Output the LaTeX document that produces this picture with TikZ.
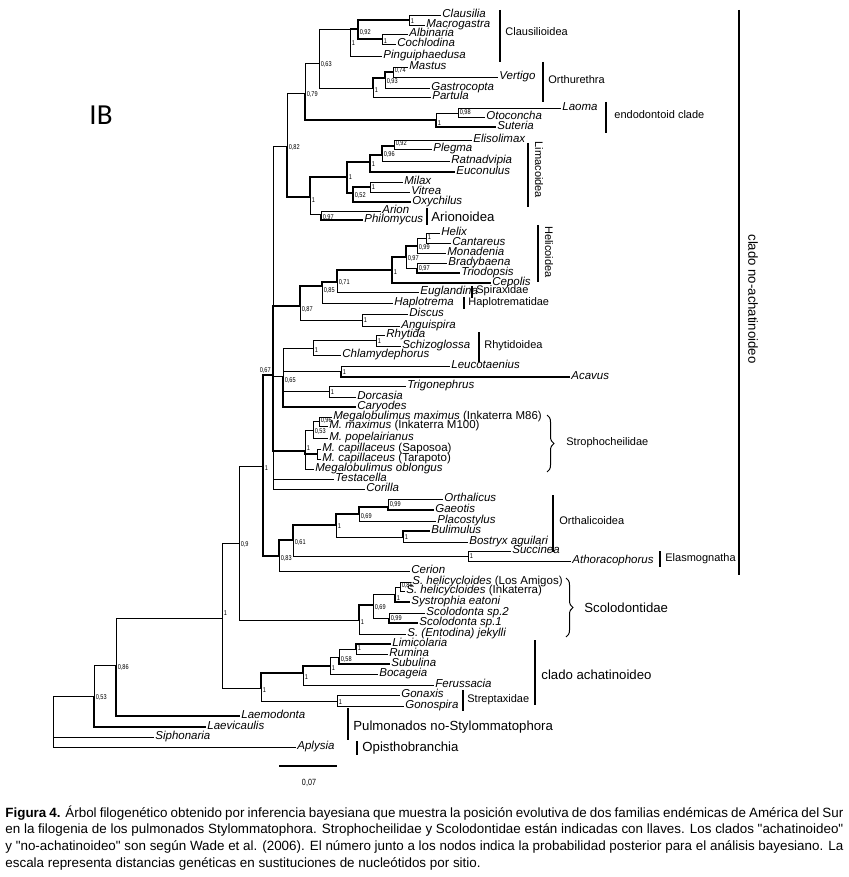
\documentclass[tikz,border=0pt]{standalone}
\usepackage{fontspec}
\setmainfont{Liberation Sans}
\newfontfamily\capfont{Liberation Sans}[Ligatures=TeXOff]
\newfontfamily\ppfamily{Liberation Sans}[FakeStretch=0.8]
\newfontfamily\ibfont{Carlito}
\usetikzlibrary{decorations.pathreplacing}

\tikzset{
  taxon/.style={anchor=west,inner sep=1pt,text height=7.9pt,text depth=2.1pt,font=\fontsize{11.5}{11.5}\selectfont\itshape},
  pp/.style={anchor=west,inner sep=0.4pt,xshift=1pt,font=\ppfamily\fontsize{7}{7}\selectfont},
  clade/.style={anchor=west,inner sep=1pt,font=\fontsize{11}{11}\selectfont},
  bigclade/.style={anchor=west,inner sep=1pt,font=\fontsize{13.2}{13.2}\selectfont},
  tb/.style={line width=1.6pt},
  bar/.style={line width=1.1pt},
  llave/.style={line width=1pt,decorate,decoration={brace,amplitude=7pt}},
  capline/.style={anchor=west,inner sep=0pt,font=\capfont\fontsize{13.4}{13.4}\selectfont}
}
% internal node of the tree: name, x, y, support, y of the support label
\newcommand{\sn}[5]{\coordinate (#1) at (#2,#3); \node[pp] (#1p) at (#2,#5) {#4};}

\begin{document}
\begin{tikzpicture}[x=1pt,y=-1pt,line width=0.8pt]
\useasboundingbox (0,0) rectangle (848,877);
\fill[white] (0,0) rectangle (848,877);

\node[font=\ibfont\fontsize{29}{29}\selectfont] (ib) at (101,115) {IB};

% taxa
\node[taxon] (clau) at (441,15) {Clausilia};
\node[taxon] (macr) at (425,25) {Macrogastra};
\node[taxon] (albi) at (408,34) {Albinaria};
\node[taxon] (coch) at (396,44) {Cochlodina};
\node[taxon] (ping) at (382,56) {Pinguiphaedusa};
\node[taxon] (mast) at (408,67) {Mastus};
\node[taxon] (vert) at (498,77) {Vertigo};
\node[taxon] (gast) at (430,88) {Gastrocopta};
\node[taxon] (part) at (431,97) {Partula};
\node[taxon] (laom) at (561,108) {Laoma};
\node[taxon] (otoc) at (485,117) {Otoconcha};
\node[taxon] (sute) at (496,127) {Suteria};
\node[taxon] (elis) at (472,140) {Elisolimax};
\node[taxon] (pleg) at (432,149) {Plegma};
\node[taxon] (ratn) at (450,161) {Ratnadvipia};
\node[taxon] (euco) at (455,172) {Euconulus};
\node[taxon] (mila) at (403,182) {Milax};
\node[taxon] (vitr) at (410,192) {Vitrea};
\node[taxon] (oxyc) at (411,202) {Oxychilus};
\node[taxon] (ario) at (381,211) {Arion};
\node[taxon] (phil) at (363,220) {Philomycus};
\node[taxon] (heli) at (440,233) {Helix};
\node[taxon] (cant) at (451,243) {Cantareus};
\node[taxon] (mona) at (446,253) {Monadenia};
\node[taxon] (brad) at (447,263) {Bradybaena};
\node[taxon] (trio) at (460,273) {Triodopsis};
\node[taxon] (cepo) at (491,283) {Cepolis};
\node[taxon] (eugl) at (419,292) {Euglandina};
\node[taxon] (hapl) at (393,303) {Haplotrema};
\node[taxon] (disc) at (408,314) {Discus};
\node[taxon] (angu) at (400,326) {Anguispira};
\node[taxon] (rhyt) at (385,335) {Rhytida};
\node[taxon] (schi) at (401,346) {Schizoglossa};
\node[taxon] (chla) at (341,355) {Chlamydephorus};
\node[taxon] (leuc) at (450,366) {Leucotaenius};
\node[taxon] (acav) at (570,377) {Acavus};
\node[taxon] (trig) at (406,386) {Trigonephrus};
\node[taxon] (dorc) at (356,397) {Dorcasia};
\node[taxon] (cary) at (356,407) {Caryodes};
\node[taxon] (mm86) at (332,417) {Megalobulimus maximus \textup{(Inkaterra M86)}};
\node[taxon] (mm100) at (328,426) {M. maximus \textup{(Inkaterra M100)}};
\node[taxon] (mpop) at (328,438) {M. popelairianus};
\node[taxon] (mcsa) at (321,449) {M. capillaceus \textup{(Saposoa)}};
\node[taxon] (mcta) at (321,459) {M. capillaceus \textup{(Tarapoto)}};
\node[taxon] (mobl) at (314,469) {Megalobulimus oblongus};
\node[taxon] (test) at (334,479) {Testacella};
\node[taxon] (cori) at (365,489) {Corilla};
\node[taxon] (orth) at (443,499) {Orthalicus};
\node[taxon] (gaeo) at (434,510) {Gaeotis};
\node[taxon] (plac) at (436,521) {Placostylus};
\node[taxon] (buli) at (430,531) {Bulimulus};
\node[taxon] (bost) at (468,542) {Bostryx aguilari};
\node[taxon] (succ) at (511,551) {Succinea};
\node[taxon] (atho) at (571,561) {Athoracophorus};
\node[taxon] (ceri) at (410,571) {Cerion};
\node[taxon] (shla) at (411,582) {S. helicycloides \textup{(Los Amigos)}};
\node[taxon] (shin) at (405,591) {S. helicycloides \textup{(Inkaterra)}};
\node[taxon] (syst) at (410,602) {Systrophia eatoni};
\node[taxon] (sco2) at (425,613) {Scolodonta sp.2};
\node[taxon] (sco1) at (418,623) {Scolodonta sp.1};
\node[taxon] (jeky) at (406,634) {S. (Entodina) jekylli};
\node[taxon] (limi) at (391,644) {Limicolaria};
\node[taxon] (rumi) at (388,654) {Rumina};
\node[taxon] (subu) at (390,664) {Subulina};
\node[taxon] (boca) at (378,674) {Bocageia};
\node[taxon] (feru) at (434,685) {Ferussacia};
\node[taxon] (gona) at (400,695) {Gonaxis};
\node[taxon] (gonp) at (404,706) {Gonospira};
\node[taxon] (laem) at (240,716) {Laemodonta};
\node[taxon] (laev) at (206,727) {Laevicaulis};
\node[taxon] (siph) at (154,737) {Siphonaria};
\node[taxon] (aply) at (296,747) {Aplysia};

% internal nodes
\sn{n1}{409}{20}{1}{21}
\sn{n2}{382}{39}{1}{41}
\sn{n3}{358}{29}{0,92}{33}
\sn{n4}{350}{29}{1}{43}
\sn{n5}{393}{72}{0,74}{71}
\sn{n6}{385}{78}{0,93}{82}
\sn{n7}{373}{88}{1}{90}
\sn{n8}{319}{63}{0,63}{65}
\sn{n9}{458}{113}{0,98}{113}
\sn{n10}{436}{120}{1}{123}
\sn{n11}{305}{93}{0,79}{95}
\sn{n12}{394}{146}{0,92}{144}
\sn{n13}{382}{155}{0,96}{155}
\sn{n14}{370}{162}{1}{164}
\sn{n15}{370}{187}{1}{187}
\sn{n16}{353}{193}{0,52}{196}
\sn{n17}{347}{177}{1}{177}
\sn{n18}{321}{214}{0,97}{218}
\sn{n19}{310}{197}{1}{200}
\sn{n20}{287}{146}{0,82}{148}
\sn{n21}{426}{238}{1}{237}
\sn{n22}{417}{246}{0,99}{248}
\sn{n23}{417}{268}{0,97}{269}
\sn{n24}{406}{257}{0,97}{259}
\sn{n25}{392}{270}{1}{272}
\sn{n26}{337}{282}{0,71}{283}
\sn{n27}{322}{286}{0,85}{291}
\sn{n28}{362}{320}{1}{320}
\sn{n29}{300}{306}{0,87}{310}
\sn{n30}{376}{340}{1}{341}
\sn{n31}{313}{348}{1}{350}
\sn{n32}{341}{371}{1}{372}
\sn{n33}{329}{391}{1}{392}
\sn{n34}{283}{376}{0,65}{381}
\sn{n35}{319}{421}{0,96}{421}
\sn{n36}{313}{430}{0,53}{432}
\coordinate (n37) at (317,454);
\sn{n38}{305}{451}{1}{448}
\coordinate (npo) at (273,375);
\node[pp,anchor=south west] (npop) at (258,374) {0,67};
\sn{n39}{388}{507}{0,99}{504}
\sn{n40}{359}{514}{0,69}{516}
\sn{n41}{403}{537}{1}{537}
\sn{n42}{336}{525}{1}{526}
\sn{n43}{468}{556}{1}{556}
\sn{n44}{293}{540}{0,61}{542}
\sn{n45}{279}{556}{0,83}{558}
\sn{nbg}{263}{466}{1}{468}
\sn{n46}{400}{587}{0,86}{585}
\sn{n47}{395}{594}{1}{598}
\sn{n48}{389}{618}{0,99}{618}
\sn{n49}{373}{605}{0,69}{607}
\sn{n50}{359}{620}{1}{622}
\sn{n51}{239}{543}{0,9}{544}
\sn{n52}{356}{649}{1}{648}
\sn{n53}{339}{657}{0,58}{659}
\sn{n54}{330}{666}{1}{668}
\sn{n55}{303}{673}{1}{677}
\sn{n57}{337}{701}{1}{702}
\sn{n56}{261}{688}{1}{690}
\sn{n58}{222}{618}{1}{613}
\sn{n59}{116}{665}{0,86}{667}
\sn{n60}{94}{696}{0,53}{697}
\coordinate (n61) at (53,696);

% branches
\draw (n1) |- (clau); \draw (n1) |- (macr);
\draw (n2) |- (albi); \draw (n2) |- (coch);
\draw[tb] (n3) |- (n1); \draw[tb] (n3) |- (n2);
\draw[tb] (n4) |- (n3); \draw (n4) |- (ping);
\draw (n5) |- (mast); \draw (n5) |- (vert);
\draw[tb] (n6) |- (n5); \draw (n6) |- (gast);
\draw[tb] (n7) |- (n6); \draw (n7) |- (part);
\draw (n8) |- (n4); \draw (n8) |- (n7);
\draw (n9) |- (laom); \draw (n9) |- (otoc);
\draw (n10) |- (n9); \draw[tb] (n10) |- (sute);
\draw (n11) |- (n8); \draw[tb] (n11) |- (n10);
\draw (n12) |- (elis); \draw (n12) |- (pleg);
\draw[tb] (n13) |- (n12); \draw (n13) |- (ratn);
\draw[tb] (n14) |- (n13); \draw[tb] (n14) |- (euco);
\draw (n15) |- (mila); \draw (n15) |- (vitr);
\draw[tb] (n16) |- (n15); \draw[tb] (n16) |- (oxyc);
\draw[tb] (n17) |- (n14); \draw[tb] (n17) |- (n16);
\draw (n18) |- (ario); \draw[tb] (n18) |- (phil);
\draw[tb] (n19) |- (n17); \draw (n19) |- (n18);
\draw (n20) |- (n11); \draw[tb] (n20) |- (n19);
\draw (n21) |- (heli); \draw (n21) |- (cant);
\draw (n22) |- (n21); \draw (n22) |- (mona);
\draw (n23) |- (brad); \draw[tb] (n23) |- (trio);
\draw[tb] (n24) |- (n22); \draw (n24) |- (n23);
\draw[tb] (n25) |- (n24); \draw[tb] (n25) |- (cepo);
\draw[tb] (n26) |- (n25); \draw (n26) |- (eugl);
\draw[tb] (n27) |- (n26); \draw (n27) |- (hapl);
\draw (n28) |- (disc); \draw (n28) |- (angu);
\draw[tb] (n29) |- (n27); \draw (n29) |- (n28);
\draw (n30) |- (rhyt); \draw (n30) |- (schi);
\draw (n31) |- (n30); \draw (n31) |- (chla);
\draw (n32) |- (leuc); \draw[tb] (n32) |- (acav);
\draw (n33) |- (trig); \draw (n33) |- (dorc);
\draw (n34) |- (n31); \draw (n34) |- (n32); \draw (n34) |- (n33); \draw[tb] (n34) |- (cary);
\draw (n35) |- (mm86); \draw (n35) |- (mm100);
\draw (n36) |- (n35); \draw (n36) |- (mpop);
\draw (n37) |- (mcsa); \draw (n37) |- (mcta);
\draw (n38) |- (n36); \draw[tb] (n38) |- (n37); \draw (n38) |- (mobl);
\draw (npo) |- (n20); \draw[tb] (npo) |- (n29); \draw (npo) |- (n34);
\draw[tb] (npo) |- (n38); \draw (npo) |- (test); \draw (npo) |- (cori);
\draw (n39) |- (orth); \draw[tb] (n39) |- (gaeo);
\draw[tb] (n40) |- (n39); \draw (n40) |- (plac);
\draw[tb] (n41) |- (buli); \draw (n41) |- (bost);
\draw[tb] (n42) |- (n40); \draw (n42) |- (n41);
\draw (n43) |- (succ); \draw (n43) |- (atho);
\draw[tb] (n44) |- (n42); \draw (n44) |- (n43);
\draw[tb] (n45) |- (n44); \draw (n45) |- (ceri);
\draw[tb] (nbg) |- (npo); \draw[tb] (nbg) |- (n45);
\draw (n46) |- (shla); \draw (n46) |- (shin);
\draw (n47) |- (n46); \draw[tb] (n47) |- (syst);
\draw (n48) |- (sco2); \draw[tb] (n48) |- (sco1);
\draw (n49) |- (n47); \draw (n49) |- (n48);
\draw[tb] (n50) |- (n49); \draw (n50) |- (jeky);
\draw (n51) |- (nbg); \draw (n51) |- (n50);
\draw[tb] (n52) |- (limi); \draw (n52) |- (rumi);
\draw (n53) |- (n52); \draw[tb] (n53) |- (subu);
\draw (n54) |- (n53); \draw (n54) |- (boca);
\draw[tb] (n55) |- (n54); \draw (n55) |- (feru);
\draw (n57) |- (gona); \draw (n57) |- (gonp);
\draw[tb] (n56) |- (n55); \draw (n56) |- (n57);
\draw (n58) |- (n51); \draw (n58) |- (n56);
\draw (n59) |- (n58); \draw[tb] (n59) |- (laem);
\draw (n60) |- (n59); \draw[tb] (n60) |- (laev);
\draw (n61) |- (n60); \draw (n61) |- (siph); \draw (n61) |- (aply);

% clades
\draw[bar] (500,10) -- (500,62);
\node[clade] (clausil) at (504,32) {Clausilioidea};
\draw[bar] (543,62) -- (543,102);
\node[clade] (orthur) at (547,80) {Orthurethra};
\draw[bar] (606,102) -- (606,133);
\node[clade] (endod) at (613,115) {endodontoid clade};
\draw[bar] (528,143) -- (528,207);
\node[clade,rotate=-90,anchor=center] (limac) at (539,170) {Limacoidea};
\draw[bar] (427,208) -- (427,225);
\node[bigclade] (arion) at (430,217) {Arionoidea};
\draw[bar] (538,225) -- (538,282);
\node[clade,rotate=-90,anchor=center] (helic) at (549,252) {Helicoidea};
\draw[bar] (472,286) -- (472,298);
\node[clade] (spirax) at (475,291) {Spiraxidae};
\draw[bar] (464,297) -- (464,309);
\node[clade] (haplot) at (467,303) {Haplotrematidae};
\draw[bar] (479,332) -- (479,362);
\node[clade] (rhytid) at (483,346) {Rhytidoidea};
\draw[llave] (547,415) -- (547,472);
\node[clade] (stroph) at (565,443) {Strophocheilidae};
\draw[bar] (553,495) -- (553,552);
\node[clade] (orthal) at (558,521) {Orthalicoidea};
\draw[bar] (660,551) -- (660,567);
\node[clade] (elasm) at (664,559) {Elasmognatha};
\draw[llave] (566,578) -- (566,637);
\node[bigclade] (scolod) at (583,608) {Scolodontidae};
\draw[bar] (535,640) -- (535,705);
\node[bigclade] (achat) at (540,675) {clado achatinoideo};
\draw[bar] (463,690) -- (463,711);
\node[clade] (strept) at (466,700) {Streptaxidae};
\draw[bar] (348,708) -- (348,740);
\node[bigclade] (pulmo) at (352,727) {Pulmonados no-Stylommatophora};
\draw[bar] (357,741) -- (357,755);
\node[bigclade] (opist) at (361,748) {Opisthobranchia};
\draw[bar] (739,10) -- (739,575);
\node[bigclade,rotate=-90,anchor=center] (noachat) at (753,299) {clado no-achatinoideo};

% scale
\draw[line width=1.3pt] (279,766) -- (337,766);
\node[pp,anchor=center,xshift=0pt,font=\ppfamily\fontsize{9}{9}\selectfont] (escala) at (308,783) {0,07};

% caption
\node[capline] (cap1) at (5,813) {\makebox[838pt][s]{\textbf{Figura 4.} Árbol filogenético obtenido por inferencia bayesiana que muestra la posición evolutiva de dos familias endémicas de América del Sur}};
\node[capline] (cap2) at (5,830) {\makebox[838pt][s]{en la filogenia de los pulmonados Stylommatophora. Strophocheilidae y Scolodontidae están indicadas con llaves. Los clados "achatinoideo"}};
\node[capline] (cap3) at (5,847) {\makebox[838pt][s]{y "no-achatinoideo" son según Wade et al. (2006). El número junto a los nodos indica la probabilidad posterior para el análisis bayesiano. La}};
\node[capline] (cap4) at (5,864) {escala representa distancias genéticas en sustituciones de nucleótidos por sitio.};
\end{tikzpicture}
\end{document}
